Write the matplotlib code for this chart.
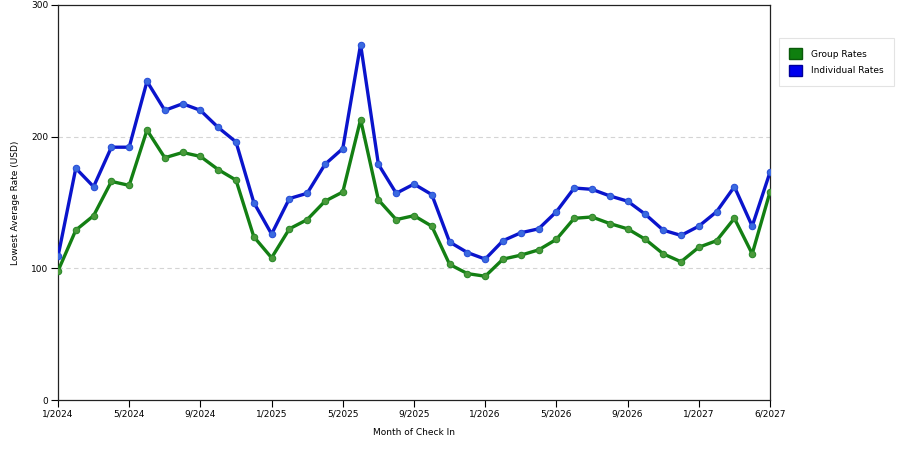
import matplotlib
matplotlib.use("Agg")
import matplotlib.pyplot as plt
from matplotlib.patches import Patch

# monthly data, 1/2024 .. 6/2027 (41 points as drawn)
group_rates = [98, 129, 140, 166, 163, 205, 184, 188, 185, 175, 167, 124, 108, 130,
               137, 151, 158, 213, 152, 137, 140, 132, 103, 96, 94, 107, 110, 114,
               122, 138, 139, 134, 130, 122, 111, 105, 116, 121, 138, 111, 158]
indiv_rates = [109, 176, 162, 192, 192, 242, 220, 225, 220, 207, 196, 150, 126, 153,
               157, 179, 191, 270, 179, 157, 164, 156, 120, 112, 107, 121, 127, 130,
               143, 161, 160, 155, 151, 141, 129, 125, 132, 143, 162, 132, 173]
tick_labels = ["1/2024", "5/2024", "9/2024", "1/2025", "5/2025", "9/2025",
               "1/2026", "5/2026", "9/2026", "1/2027", "6/2027"]
y_ticks = [0, 100, 200, 300]

x = list(range(len(group_rates)))

fig = plt.figure(figsize=(9, 4.5), dpi=100)
ax = fig.add_axes([58 / 900, 1 - 400 / 450, 712 / 900, 395 / 450])

ax.plot(x, group_rates, color="#137f13", lw=2.4, marker="o", ms=4.6,
        mfc="#4a9a3a", mec="#2a8a2a", mew=0.8, zorder=3)
ax.plot(x, indiv_rates, color="#0a14cc", lw=2.4, marker="o", ms=4.6,
        mfc="#3a6ae0", mec="#2a50d8", mew=0.8, zorder=4)

ax.set_xlim(0, len(x) - 1)
ax.set_ylim(0, 300)
ax.set_xticks(x[::4])
ax.set_xticklabels(tick_labels)
ax.set_yticks(y_ticks)
ax.tick_params(labelsize=6.5, length=5, width=0.8, direction="out", pad=2)
for s in ax.spines.values():
    s.set_linewidth(0.9)
    s.set_color("#222222")

for v in [100, 200]:
    ax.axhline(v, color="#d4d4d4", lw=0.8, ls=(0, (4, 3)), zorder=1)

ax.set_xlabel("Month of Check In", fontsize=6.5, labelpad=7)
ax.set_ylabel("Lowest Average Rate (USD)", fontsize=6.5, labelpad=8)

handles = [Patch(facecolor="#0f7f0f", edgecolor="#0a5a0a", label="Group Rates"),
           Patch(facecolor="#0000ee", edgecolor="#00009a", label="Individual Rates")]
leg = fig.legend(handles=handles, loc="upper left", bbox_to_anchor=(779 / 900, 1 - 38 / 450),
                 fontsize=6.5, frameon=True, fancybox=False, handlelength=1.35,
                 handleheight=1.5, handletextpad=1.0, borderpad=1.15, labelspacing=0.6,
                 borderaxespad=0)
leg.get_frame().set_edgecolor("#dddddd")
leg.get_frame().set_linewidth(0.8)

fig.savefig("out.png", dpi=100)
